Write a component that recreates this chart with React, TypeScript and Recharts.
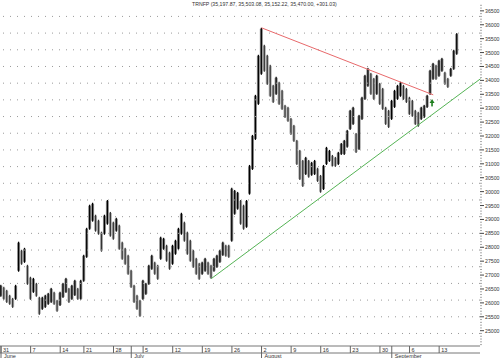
import { ComposedChart, Bar, XAxis, YAxis, ReferenceLine, ReferenceDot } from 'recharts';

// two bars per trading day, May 31 .. Sep 16
const BARS_PER_DAY = 2;

const highs = [
  26650, 26580, 26470, 26290, 26180, 26650, 28200, 27910, 27980, 27370,
  26940, 26900, 26720, 26220, 26220, 26290, 26360, 26540, 26400, 26110,
  26400, 26720, 26900, 26540, 26650, 26830, 26540, 26830, 27730, 28700,
  29530, 29600, 29170, 28990, 28560, 29170, 29700, 29270, 28920, 29060,
  28810, 28200, 27980, 27730, 27190, 26650, 26290, 26110, 26830, 26720,
  27370, 27730, 27480, 27370, 28380, 28340, 28090, 27840, 28090, 28270,
  28700, 29240, 28920, 28560, 28270, 27910, 27620, 27440, 27480, 27620,
  27480, 27370, 27620, 27730, 27910, 28200, 28090, 28090, 30140, 30060,
  29990, 29700, 29530, 29700, 30960, 32040, 33480, 34920, 35890, 35280,
  34920, 34560, 33840, 34130, 33950, 33660, 33120, 33050, 32650, 32400,
  31860, 31500, 31140, 31250, 31140, 31070, 31140, 30860, 30600, 30960,
  31610, 31500, 31320, 31250, 31430, 31750, 31860, 32220, 32940, 33050,
  32110, 32760, 33410, 34200, 34450, 34270, 34090, 34200, 33910, 33730,
  33050, 32940, 33300, 33660, 33840, 33950, 33840, 33730, 33410, 33300,
  32940, 32870, 33050, 33120, 33480, 34380, 34630, 34560, 34740, 34810,
  34310, 34090, 34450, 35100, 35700,
];

const lows = [
  26220, 26110, 26000, 25930, 25820, 26110, 27120, 27370, 27440, 26650,
  26110, 26360, 26220, 25570, 25750, 25820, 25930, 26000, 25930, 25680,
  25890, 26180, 26360, 26000, 26110, 26250, 26110, 26110, 26760, 27620,
  28630, 28920, 28560, 28450, 27840, 28450, 28810, 28380, 28270, 28560,
  27910, 27550, 27370, 27010, 26540, 26000, 25750, 25500, 26110, 26290,
  26650, 27190, 27010, 26830, 27550, 27910, 27480, 27190, 27370, 27730,
  27910, 28450, 28200, 27730, 27480, 27260, 27010, 26830, 27010, 27120,
  27010, 26870, 27120, 27260, 27440, 27690, 27660, 27620, 28200, 29170,
  29350, 28810, 28630, 28700, 29890, 30780, 31860, 33120, 34200, 34310,
  33840, 33410, 33190, 33480, 33120, 32940, 32650, 32510, 32040, 31790,
  30960, 30420, 30170, 30600, 30500, 30570, 30600, 30350, 29960, 30060,
  30960, 31070, 30890, 30890, 30960, 31320, 31320, 31580, 32220, 32400,
  31390, 31500, 32580, 33300, 33770, 33480, 33300, 33480, 33120, 32940,
  32400, 32290, 32580, 33010, 33300, 33410, 33300, 33190, 32760, 32690,
  32400, 32330, 32580, 32650, 33010, 33480, 34020, 34020, 34130, 34310,
  33840, 33730, 34130, 34380, 34920,
];

// trading-day index of each Monday label and of each month start
const dayTicks = [0, 5, 10, 14, 19, 24, 29, 34, 39, 44, 49, 54, 59, 64, 69, 74];
const dayLabels = ['31', '7', '14', '21', '28', '5', '12', '19', '26', '2', '9', '16', '23', '30', '6', '13'];
const monthStarts = [0, 22, 44, 66];
const monthLabels = ['June', 'July', 'August', 'September'];

const priceTicks = [
  25000, 25500, 26000, 26500, 27000, 27500, 28000, 28500, 29000, 29500, 30000, 30500,
  31000, 31500, 32000, 32500, 33000, 33500, 34000, 34500, 35000, 35500, 36000, 36500,
];
const gridLevels = [
  24900, 25500, 26100, 26700, 27300, 27900, 28500, 29100, 29700, 30300,
  30900, 31500, 32100, 32700, 33300, 33900, 34500, 35100, 35700, 36300,
];

// trend lines drawn on the chart: [bar, price]
const resistanceLine = [{ bar: 88, price: 35890 }, { bar: 146, price: 33480 }];
const supportLine = [{ bar: 71, price: 26870 }, { bar: 162, price: 34060 }];
const breakoutArrow = { bar: 145.6, price: 33190 };

const TITLE = 'TRNFP (35,197.87, 35,503.08, 35,152.22, 35,470.00, +301.03)';
const FONT = '"Liberation Sans", Arial, sans-serif';

const data = highs.map((h, i) => ({
  i,
  range: [lows[i], h],
  up: i === 0 || h + lows[i] >= highs[i - 1] + lows[i - 1],
}));

const minorPriceTicks: number[] = [];
for (let v = 24500; v <= 36700; v += 100) minorPriceTicks.push(v);

const RangeShape = (props: any) => {
  const { x, y, width, height, payload } = props;
  const cx = x + width / 2;
  const top = Math.min(y, y + height);
  const h = Math.max(Math.abs(height), 1);
  return (
    <g>
      <rect x={cx - 1.5} y={top + 1} width={3} height={Math.max(h - 2, 1)} fill={payload.up ? '#8a8a8a' : '#b0b0b0'} />
      <rect x={cx - 0.6} y={top} width={1.2} height={h} fill={payload.up ? '#000' : '#333'} />
    </g>
  );
};

const PriceTick = ({ x, y, payload }: any) => {
  const major = priceTicks.includes(payload.value);
  return (
    <g>
      <line x1={x} x2={x + (major ? 4 : 2)} y1={y} y2={y} stroke={major ? '#444' : '#aaa'} />
      {major && (
        <text x={x + 5} y={y + 2} fontSize={5.2} fontFamily={FONT} fill="#333">{payload.value}</text>
      )}
    </g>
  );
};

const DayTick = ({ x, y, payload }: any) => {
  const k = dayTicks.indexOf(payload.value / BARS_PER_DAY);
  return (
    <g>
      <line x1={x} x2={x} y1={y} y2={y + 7} stroke="#666" />
      <text x={x + 2} y={y + 5.5} fontSize={5.5} fontFamily={FONT} fill="#333">{dayLabels[k]}</text>
    </g>
  );
};

const MonthTick = ({ x, y, payload }: any) => {
  const k = monthStarts.indexOf(payload.value / BARS_PER_DAY);
  return (
    <g>
      <line x1={x} x2={x} y1={y - 7} y2={y + 5} stroke="#666" />
      <text x={x + 3} y={y + 4.6} fontSize={5.5} fontFamily={FONT} fill="#333">{monthLabels[k]}</text>
    </g>
  );
};

const ArrowUp = ({ cx, cy }: any) => (
  <g fill="#1f7f1f">
    <polygon points={`${cx},${cy - 4} ${cx - 2.5},${cy} ${cx + 2.5},${cy}`} />
    <rect x={cx - 0.8} y={cy} width={1.6} height={3.5} />
  </g>
);

export default function App() {
  return (
    <div style={{ position: 'absolute', left: 0, top: 0, width: 500, height: 358, background: '#fff' }}>
      <ComposedChart width={500} height={358} data={data} margin={{ top: 3.9, right: 0, bottom: 0, left: 0 }}>
        <XAxis
          xAxisId="day"
          dataKey="i"
          type="number"
          domain={[-0.34, 161.8]}
          allowDataOverflow
          ticks={dayTicks.map((d) => d * BARS_PER_DAY)}
          interval={0}
          height={7}
          tickSize={0}
          tickMargin={0}
          tickLine={false}
          axisLine={{ stroke: '#777' }}
          tick={<DayTick />}
        />
        <XAxis
          xAxisId="month"
          dataKey="i"
          type="number"
          domain={[-0.34, 161.8]}
          allowDataOverflow
          ticks={monthStarts.map((d) => d * BARS_PER_DAY)}
          interval={0}
          height={5}
          tickSize={0}
          tickMargin={0}
          tickLine={false}
          axisLine={{ stroke: '#777' }}
          tick={<MonthTick />}
        />
        <YAxis
          orientation="right"
          width={20}
          type="number"
          domain={[24450, 36750]}
          allowDataOverflow
          ticks={minorPriceTicks}
          interval={0}
          tickSize={0}
          tickMargin={0}
          tickLine={false}
          axisLine={false}
          tick={<PriceTick />}
        />
        {gridLevels.map((v) => (
          <ReferenceLine key={v} xAxisId="day" y={v} stroke="#9a9a9a" strokeDasharray="1 6" />
        ))}
        <Bar xAxisId="day" dataKey="range" shape={<RangeShape />} isAnimationActive={false} />
        <ReferenceLine
          xAxisId="day"
          segment={resistanceLine.map((p) => ({ x: p.bar, y: p.price }))}
          stroke="#e8696b"
          strokeWidth={1}
          ifOverflow="visible"
        />
        <ReferenceLine
          xAxisId="day"
          segment={supportLine.map((p) => ({ x: p.bar, y: p.price }))}
          stroke="#55b455"
          strokeWidth={1}
          ifOverflow="visible"
        />
        <ReferenceDot
          xAxisId="day"
          x={breakoutArrow.bar}
          y={breakoutArrow.price}
          ifOverflow="visible"
          shape={<ArrowUp />}
        />
      </ComposedChart>
      <svg width={500} height={10} style={{ position: 'absolute', left: 0, top: 0 }}>
        <text x={192} y={6} fontSize={5.2} fontFamily={FONT} fill="#333">{TITLE}</text>
      </svg>
    </div>
  );
}
